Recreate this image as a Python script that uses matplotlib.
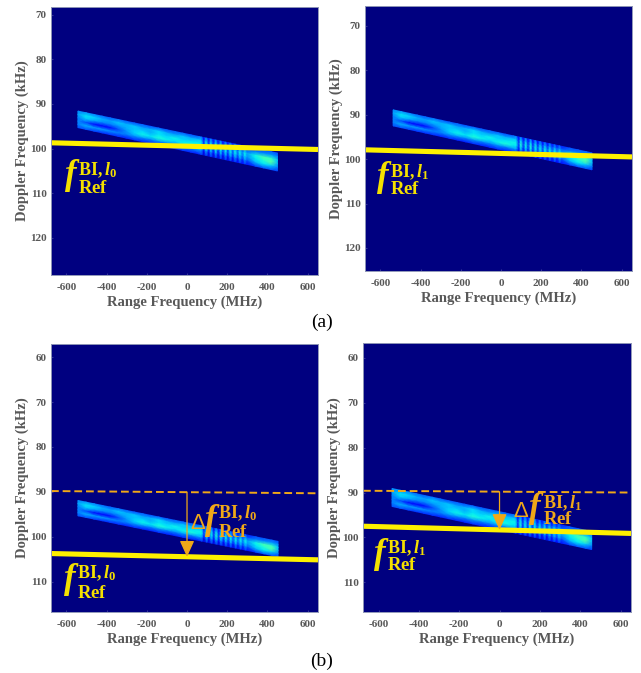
import numpy as np
import matplotlib
matplotlib.use('Agg')
import matplotlib.pyplot as plt

plt.rcParams['font.family'] = ['Liberation Serif', 'DejaVu Serif']
plt.rcParams['mathtext.fontset'] = 'custom'
plt.rcParams['mathtext.rm'] = 'Liberation Serif:bold'
plt.rcParams['mathtext.it'] = 'Liberation Serif:italic:bold'
plt.rcParams['mathtext.bf'] = 'Liberation Serif:bold'
plt.rcParams['axes.unicode_minus'] = False

W, H = 641, 673

x_ticks = [-600, -400, -200, 0, 200, 400, 600]
x_lim = (-677, 652)

# along-band positions (MHz) for a band starting at -540 and ending at 450
band_x = [-540, -500, -460, -420, -380, -340, -300, -260, -220, -180, -140, -100, -60, -20, 20, 60,
          72, 84, 96, 108, 120, 132, 144, 156, 168, 180, 192, 204, 216, 228, 240, 252, 264, 276, 288, 300,
          340, 380, 420, 450]
# intensity across the band, top edge to bottom edge
band_rows = [
    [30, 32, 30, 28, 26, 28, 26, 24, 26, 24, 26, 24, 26, 26, 24, 26,
     30, 15, 30, 15, 30, 15, 30, 15, 30, 15, 28, 15, 28, 15, 28, 16, 26, 16, 26, 18,
     24, 24, 26, 24],
    [34, 42, 40, 36, 34, 38, 36, 38, 34, 36, 40, 36, 34, 38, 36, 38,
     38, 18, 40, 18, 38, 18, 40, 18, 38, 18, 36, 20, 36, 20, 34, 22, 34, 24, 32, 26,
     30, 32, 34, 30],
    [30, 38, 34, 30, 30, 32, 36, 38, 40, 36, 42, 40, 44, 40, 42, 44,
     44, 22, 46, 22, 44, 22, 46, 22, 44, 24, 44, 24, 44, 26, 44, 28, 44, 30, 44, 34,
     44, 52, 50, 38],
    [30, 24, 16, 14, 16, 24, 32, 40, 44, 42, 46, 44, 40, 44, 46, 42,
     42, 20, 44, 20, 42, 20, 44, 20, 42, 22, 42, 22, 42, 24, 42, 26, 40, 28, 40, 32,
     42, 46, 54, 36],
    [30, 36, 34, 34, 32, 30, 30, 32, 32, 30, 32, 30, 30, 32, 30, 32,
     32, 14, 34, 14, 32, 14, 34, 14, 32, 14, 32, 16, 32, 16, 32, 18, 32, 20, 32, 24,
     36, 42, 38, 30],
    [24, 24, 22, 20, 20, 20, 18, 20, 18, 18, 20, 18, 18, 20, 18, 18,
     22, 8, 22, 8, 22, 8, 22, 8, 22, 8, 22, 10, 22, 10, 22, 12, 22, 14, 22, 16,
     22, 24, 24, 22],
]

# panel a, left
al_ticks = [70, 80, 90, 100, 110, 120]
al_ylim = (68.3, 128.3)
al_band_x = (-543, 450)
al_band_top = (91.6, 101.0)
al_band_bot = (95.3, 105.0)
al_line = (98.7, 100.2)

# panel a, right
ar_ticks = [70, 80, 90, 100, 110, 120]
ar_ylim = (65.5, 125.2)
ar_band_x = (-537, 453)
ar_band_top = (88.9, 98.6)
ar_band_bot = (92.5, 102.4)
ar_line = (97.9, 99.5)

# panel b, left
bl_ticks = [60, 70, 80, 90, 100, 110]
bl_ylim = (57.1, 116.7)
bl_band_x = (-543, 453)
bl_band_top = (91.9, 101.0)
bl_band_bot = (95.3, 104.4)
bl_line = (103.7, 105.1)
bl_dash = (89.8, 90.3)

# panel b, right
br_ticks = [60, 70, 80, 90, 100, 110]
br_ylim = (56.7, 116.6)
br_band_x = (-533, 457)
br_band_top = (89.1, 98.7)
br_band_bot = (93.1, 102.7)
br_line = (97.5, 99.1)
br_dash = (89.6, 90.0)

YELLOW = '#fdf000'
TEXT_Y = '#f4e000'
ORANGE = '#f0a818'
GREY = '#585858'


def panel(box, ticks, ylim, bx, top, bot, line, dash=None):
    l, t, r, b = box
    ax = fig.add_axes([l / W, 1 - b / H, (r - l) / W, (b - t) / H])
    ax.set_facecolor(plt.cm.jet(0.0))

    frac = (np.array(band_x) + 540) / 990
    xs = bx[0] + frac * (bx[1] - bx[0])
    y_top = top[0] + frac * (top[1] - top[0])
    y_bot = bot[0] + frac * (bot[1] - bot[0])
    rows = np.array(band_rows) / 100
    across = np.linspace(0, 1, rows.shape[0])[:, None]
    ax.pcolormesh(np.tile(xs, (rows.shape[0], 1)), y_top + across * (y_bot - y_top), rows,
                  cmap='jet', vmin=0, vmax=1.2, shading='gouraud')

    ax.plot(x_lim, line, color=YELLOW, lw=3.7, solid_capstyle='butt')
    if dash is not None:
        ax.plot(x_lim, dash, color=ORANGE, lw=1.4, ls=(0, (4, 2)))
        top_y = dash[0] + (0 - x_lim[0]) / (x_lim[1] - x_lim[0]) * (dash[1] - dash[0])
        end_y = line[0] + (0 - x_lim[0]) / (x_lim[1] - x_lim[0]) * (line[1] - line[0])
        ax.annotate('', xy=(0, end_y), xytext=(0, top_y),
                    arrowprops=dict(arrowstyle='-|>,head_width=0.32,head_length=0.7', color=ORANGE,
                                    lw=0.9, shrinkA=0, shrinkB=0, mutation_scale=14))

    ax.set_xlim(x_lim)
    ax.set_ylim(ylim[1], ylim[0])
    ax.set_xticks(x_ticks)
    ax.set_yticks(ticks)
    ax.tick_params(length=1.5, direction='in', color='#34349a', labelcolor=GREY, labelsize=8)
    ax.tick_params(axis='x', pad=6)
    ax.tick_params(axis='y', pad=3)
    for lab in ax.get_xticklabels() + ax.get_yticklabels():
        lab.set_fontweight('bold')
    ax.set_xlabel('Range Frequency (MHz)', fontsize=10.5, fontweight='bold', color=GREY, labelpad=2)
    ax.set_ylabel('Doppler Frequency (kHz)', fontsize=10.5, fontweight='bold', color=GREY, labelpad=1)
    for s in ax.spines.values():
        s.set_color('#9097b8')
        s.set_linewidth(0.7)
    return ax


def px_text(x, y, s, **kw):
    fig.text(x / W, 1 - y / H, s, va='baseline', ha='left', **kw)


def f_label(x_f, y_f, x, y_sup, y_sub, sub, color):
    px_text(x_f, y_f, r'$f$', fontsize=25, color=color)
    px_text(x, y_sup, r'$\mathrm{BI,}l_%s$' % sub, fontsize=13, color=color)
    px_text(x, y_sub, r'$\mathrm{Ref}$', fontsize=13.5, color=color)


fig = plt.figure(figsize=(W / 100, H / 100), dpi=100)

panel((51, 7, 318, 275), al_ticks, al_ylim, al_band_x, al_band_top, al_band_bot, al_line)
panel((365, 6, 632, 271), ar_ticks, ar_ylim, ar_band_x, ar_band_top, ar_band_bot, ar_line)
panel((51, 344, 318, 612), bl_ticks, bl_ylim, bl_band_x, bl_band_top, bl_band_bot, bl_line, bl_dash)
panel((363, 343, 631, 612), br_ticks, br_ylim, br_band_x, br_band_top, br_band_bot, br_line, br_dash)

f_label(64, 184, 78, 175, 193, '0', TEXT_Y)
f_label(376, 186, 390, 177, 194, '1', TEXT_Y)
f_label(63, 588, 77, 578, 598, '0', TEXT_Y)
f_label(373, 563, 387, 553, 570, '1', TEXT_Y)

px_text(190, 529, '\u0394', fontsize=16, color=ORANGE, family=['Liberation Sans'])
f_label(204, 529, 218, 518, 537, '0', ORANGE)
px_text(513, 517, '\u0394', fontsize=16, color=ORANGE, family=['Liberation Sans'])
f_label(528, 517, 543, 508, 524, '1', ORANGE)

fig.text(322 / W, 1 - 327 / H, '(a)', ha='center', va='baseline', fontsize=14, color='black')
fig.text(322 / W, 1 - 666 / H, '(b)', ha='center', va='baseline', fontsize=14, color='black')

fig.savefig('out.png', dpi=100)
